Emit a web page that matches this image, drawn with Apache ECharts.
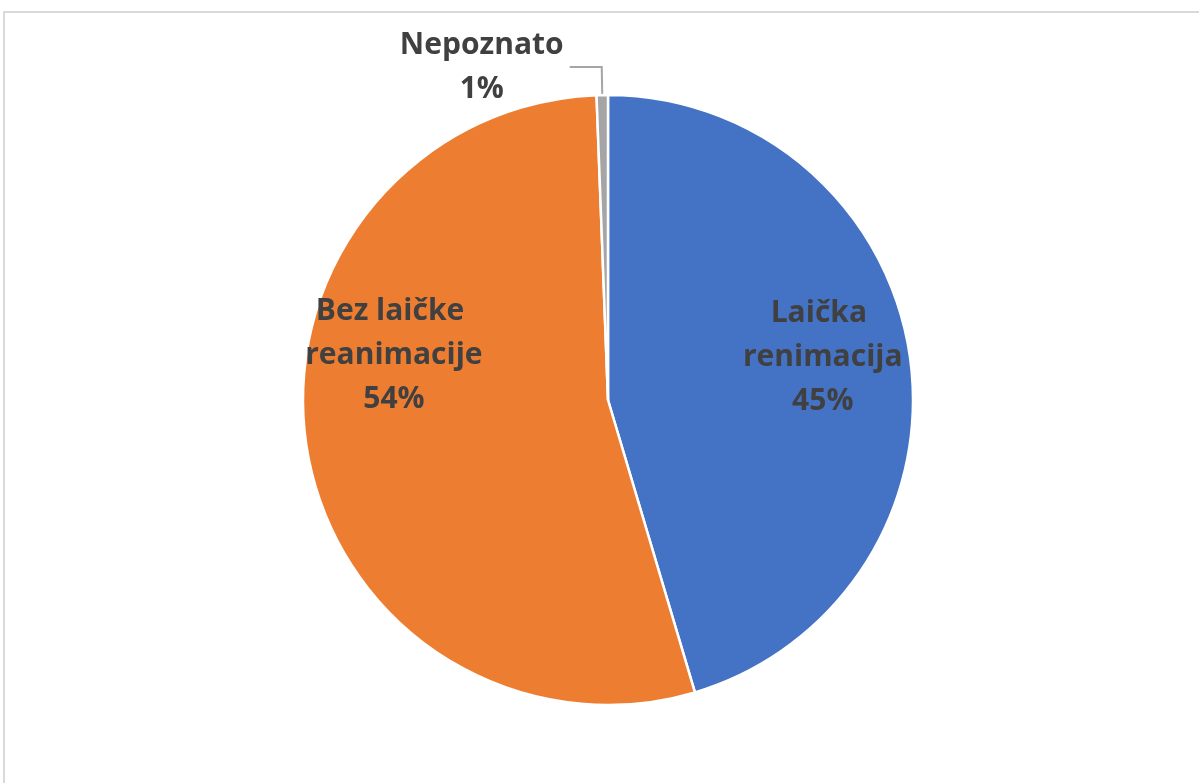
<!DOCTYPE html>
<html><head><meta charset="utf-8">
<script src="https://cdn.jsdelivr.net/npm/echarts@6/dist/echarts.min.js"></script>
<style>
html,body{margin:0;padding:0;width:1199px;height:783px;overflow:hidden;background:#fff;}
#frame{position:absolute;left:3px;top:11px;width:1300px;height:900px;border:2px solid #d9d9d9;box-sizing:border-box;}
#chart{position:absolute;left:0;top:0;width:1199px;height:783px;}
</style></head><body>
<div id="frame"></div><div id="chart"></div>
<script>
// Data (percent shares)
const categories = ['Laička renimacija', 'Bez laičke reanimacije', 'Nepoznato'];
const values = [45.4, 54.0, 0.6];

const sliceColors = ['#4472C4', '#ED7D31', '#A5A5A5'];
const FONT = 'Open Sans';
const textColor = '#404040';

const chart = echarts.init(document.getElementById('chart'));
chart.setOption({
  animation: false,
  backgroundColor: 'transparent',
  series: [
    {
      type: 'pie',
      center: [608, 400],
      radius: 305,
      startAngle: 90,
      clockwise: true,
      silent: true,
      avoidLabelOverlap: false,
      itemStyle: { borderColor: '#ffffff', borderWidth: 2.5 },
      data: categories.map((c, i) => ({
        name: c, value: values[i],
        itemStyle: { color: sliceColors[i] },
        label: { show: i === 2 },
        labelLine: { show: i === 2 }
      })),
      label: {
        position: 'outside',
        distanceToLabelLine: 8,
        formatter: p => '{a|' + p.name + '}\n{a|' + Math.round(p.value) + '%}',
        rich: {
          a: { fontFamily: FONT, fontWeight: 'bold', fontSize: 30, color: textColor, lineHeight: 44, width: 160, align: 'center' }
        }
      },
      labelLine: { length: 28, length2: 32, smooth: false, lineStyle: { color: '#A5A5A5', width: 2 } }
    },
    {
      type: 'pie',
      center: [608, 400],
      radius: [123, 305],
      startAngle: 90,
      clockwise: true,
      silent: true,
      avoidLabelOverlap: false,
      itemStyle: { color: 'rgba(0,0,0,0)', borderWidth: 0 },
      data: categories.map((c, i) => ({ name: c, value: values[i], label: { show: i < 2 } })),
      label: {
        position: 'inside',
        formatter: p => p.name + '\n' + Math.round(p.value) + '%',
        width: 185,
        overflow: 'break',
        align: 'center',
        fontFamily: FONT, fontWeight: 'bold', fontSize: 30, color: textColor, lineHeight: 44
      },
      labelLine: { show: false },
      labelLayout: p => (p.dataIndex === 1 ? { dy: -80 } : { dy: -11 })
    }
  ]
});
</script>
</body></html>
